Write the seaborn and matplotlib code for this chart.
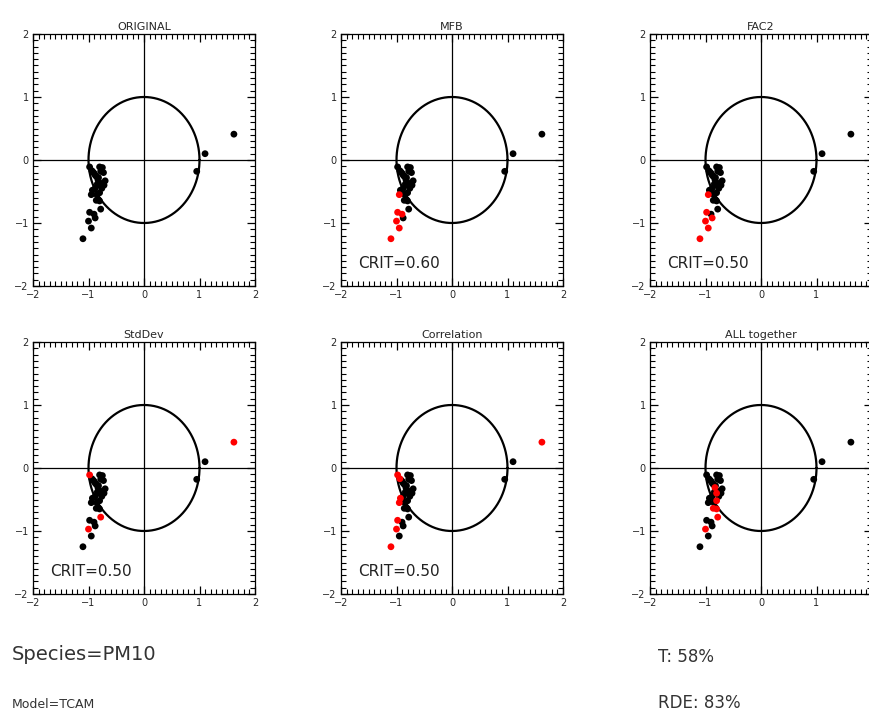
import numpy as np
import pandas as pd
import seaborn as sns
import matplotlib.pyplot as plt
from matplotlib.ticker import MultipleLocator

# point coordinates (same in every panel)
px = [1.62, 1.10, 0.95, -1.10, -0.95, -1.00, -0.88, -0.98, -0.90, -0.78,
      -0.95, -0.93, -0.85, -0.82, -0.76, -0.72, -0.70, -0.80, -0.82, -0.78,
      -0.73, -0.80, -0.98, -0.94, -0.90, -0.86, -0.83, -0.80, -0.80, -0.86,
      -0.80, -0.88, -0.84, -0.92, -0.88, -0.75]
py = [0.41, 0.10, -0.18, -1.25, -1.08, -0.97, -0.92, -0.83, -0.86, -0.78,
      -0.55, -0.48, -0.55, -0.63, -0.45, -0.40, -0.33, -0.36, -0.28, -0.18,
      -0.20, -0.11, -0.11, -0.17, -0.21, -0.26, -0.31, -0.40, -0.52, -0.64,
      -0.65, -0.45, -0.38, -0.19, -0.24, -0.12]

titles = ["ORIGINAL", "MFB", "FAC2", "StdDev", "Correlation", "ALL together"]
crit = [None, "CRIT=0.60", "CRIT=0.50", "CRIT=0.50", "CRIT=0.50", None]
# indices of points flagged red in each panel
red_idx = [
    [],
    [3, 4, 5, 7, 8, 10],
    [3, 4, 5, 6, 7, 10],
    [0, 22, 9, 5],
    [0, 22, 23, 11, 10, 7, 5, 3],
    [26, 27, 28, 29, 30, 9, 5],
]

sns.set_style("ticks")
plt.rcParams['font.family'] = ['DejaVu Sans']

fig = plt.figure(figsize=(8.69, 7.11), dpi=100)
W, H = 869, 711
lefts = [33, 341, 650]
tops = [34, 342]
t = np.linspace(0, 2 * np.pi, 300)

for i, title in enumerate(titles):
    r, c = divmod(i, 3)
    ax = fig.add_axes([lefts[c] / W, 1 - (tops[r] + 252) / H, 222 / W, 252 / H])
    flag = np.zeros(len(px), dtype=int)
    flag[red_idx[i]] = 1
    df = pd.DataFrame({"x": px, "y": py, "flag": flag}).sort_values("flag")
    ax.axhline(0, color="black", lw=0.9)
    ax.axvline(0, color="black", lw=0.9)
    ax.plot(np.cos(t), np.sin(t), color="black", lw=1.6)
    sns.scatterplot(data=df, x="x", y="y", hue="flag",
                    palette={0: "black", 1: "red"}, legend=False,
                    s=24, linewidth=0, ax=ax, zorder=3)
    ax.set_xlim(-2, 2)
    ax.set_ylim(-2, 2)
    ax.set_xlabel("")
    ax.set_ylabel("")
    ax.set_title(title, fontsize=8, pad=3)
    ax.minorticks_on()
    ax.xaxis.set_major_locator(MultipleLocator(1))
    ax.yaxis.set_major_locator(MultipleLocator(1))
    ax.xaxis.set_minor_locator(MultipleLocator(0.1))
    ax.yaxis.set_minor_locator(MultipleLocator(0.1))
    ax.tick_params(which="both", direction="in", top=True, right=True,
                   bottom=True, left=True, labelsize=7, pad=3, color="black")
    ax.tick_params(which="major", length=5.5, width=0.9)
    ax.tick_params(which="minor", length=3.5, width=0.8)
    if c == 2:
        ax.set_xticks([-2, -1, 0, 1], ["\u22122", "\u22121", "0", "1"])
    for sp in ax.spines.values():
        sp.set_linewidth(0.9)
        sp.set_color("black")
    if crit[i]:
        ax.text(-1.7, -1.72, crit[i], fontsize=11, color="#222222")

fig.text(12 / W, 1 - 655 / H, "Species=PM10", fontsize=14, color="#333333", va="center")
fig.text(12 / W, 1 - 704 / H, "Model=TCAM", fontsize=9, color="#333333", va="center")
fig.text(658 / W, 1 - 657 / H, "T: 58%", fontsize=12, color="#333333", va="center")
fig.text(658 / W, 1 - 703 / H, "RDE: 83%", fontsize=12, color="#333333", va="center")

fig.savefig("out.png", dpi=100)
